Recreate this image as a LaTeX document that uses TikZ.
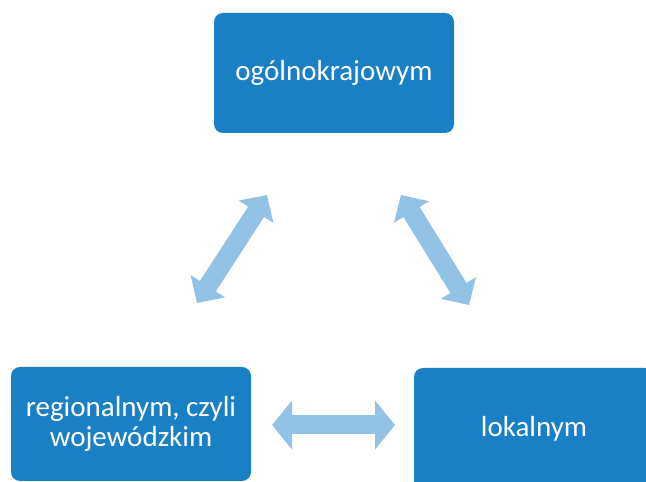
\documentclass[tikz,border=0pt]{standalone}
\usepackage{fontspec}
\setmainfont{Carlito}
\usetikzlibrary{arrows.meta}
\definecolor{boxblue}{RGB}{26,128,197}
\definecolor{arrowblue}{RGB}{146,195,230}
\tikzset{
  levelbox/.style={draw=none, fill=boxblue, rounded corners=9pt, text=white,
    minimum width=240pt, align=center, font=\fontsize{29}{30}\selectfont, inner sep=0pt},
  diagarrow/.style={draw=arrowblue, line width=19pt,
    {Triangle[length=20pt,width=40pt]}-{Triangle[length=20pt,width=40pt]}},
  horarrow/.style={draw=arrowblue, line width=19pt,
    {Triangle[length=20pt,width=48pt]}-{Triangle[length=20pt,width=48pt]}}
}
\begin{document}
\begin{tikzpicture}[x=1pt,y=1pt]
\useasboundingbox (0,0) rectangle (646,482);
\fill[white] (0,0) rectangle (646,482);
\node[levelbox, minimum height=120pt] (top) at (334,409) {ogólnokrajowym};
\node[levelbox, minimum height=114pt] (reg) at (131,58) {regionalnym, czyli\\wojewódzkim};
\node[levelbox, minimum height=122pt] (lok) at (534,53) {lokalnym};
\coordinate (l1) at (267,287);
\coordinate (l2) at (197,179);
\coordinate (r1) at (401,287);
\coordinate (r2) at (469,177);
\coordinate (h1) at (272,57);
\coordinate (h2) at (395,57);
\draw[diagarrow] (l1) -- (l2);
\draw[diagarrow] (r1) -- (r2);
\draw[horarrow] (h1) -- (h2);
\end{tikzpicture}
\end{document}
